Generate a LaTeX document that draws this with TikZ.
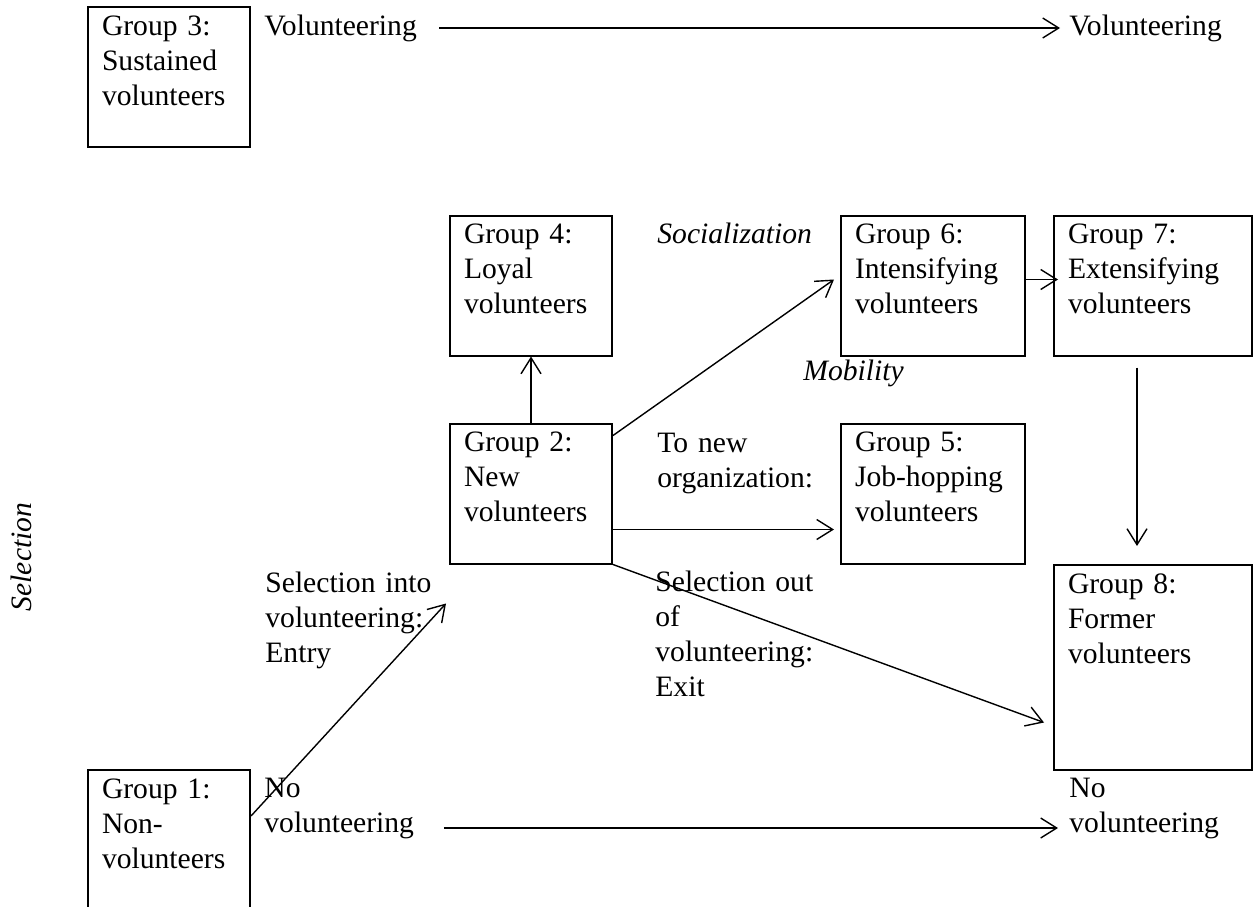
\documentclass[tikz,border=0pt]{standalone}
\usepackage{fontspec}
\setmainfont{Liberation Serif}
\usepackage{tikz}
\usetikzlibrary{arrows.meta, positioning}

\begin{document}
\begin{tikzpicture}[x=0.5pt,y=-0.5pt,on grid,>={Straight Barb[length=8pt,width=10pt]},
    font=\fontsize{14.8pt}{17.5pt}\selectfont]
    \tikzstyle{grp}=[shape=rectangle,draw,line width=1pt,inner xsep=7pt,inner ysep=0pt,
        align=left,text width=67pt,text height=14pt,text depth=56pt]
    \tikzstyle{lbl}=[anchor=base west,inner sep=0pt,align=left]

    \useasboundingbox (0,0) rectangle (1253,906);
    \clip (0,0) rectangle (1253,906);

    \node[grp] (g3) at (169,77) {Group 3:\\Sustained\\volunteers};
    \node[grp] (g4) at (531,285.5) {Group 4:\\Loyal\\volunteers};
    \node[grp, text width=78pt, right=201pt of g4] (g6) {Group 6:\\Intensifying\\volunteers};
    \node[grp, text width=85pt, right=110pt of g6] (g7) {Group 7:\\Extensifying\\volunteers};
    \node[grp, below=104pt of g4] (g2) {Group 2:\\New\\volunteers};
    \node[grp, text width=78pt, right=201pt of g2] (g5) {Group 5:\\Job-hopping\\volunteers};
    \node[grp, text width=85pt, text depth=88.5pt, below=191pt of g7] (g8) {Group 8:\\Former\\volunteers};
    \node[grp] (g1) at (169,840) {Group 1:\\Non-\\volunteers};

    \node[lbl] (v3l) at (264,35) {Volunteering};
    \node[lbl] (v3r) at (1069,35) {Volunteering};
    \node[lbl, text width=80pt] (nvl) at (264,797) {No\\volunteering};
    \node[lbl, text width=80pt] (nvr) at (1069,797) {No\\volunteering};
    \node[lbl, text width=90pt] (selin) at (265,592) {Selection into\\volunteering:\\Entry};
    \node[lbl, text width=90pt] (selout) at (655,591) {Selection out\\of\\volunteering:\\Exit};
    \node[lbl, text width=90pt] (tonew) at (657,452) {To new\\organization:};
    \node[lbl] (soc) at (657,243) {\textit{Socialization}};
    \node[lbl] (mob) at (803,380) {\textit{Mobility}};
    \node[rotate=90, inner sep=0pt] (sel) at (21,557) {\textit{Selection}};

    \path[->, line width=0.7pt]
    ([yshift=3.5pt]v3l.base east) edge[shorten <=11pt, shorten >=4.5pt] ([yshift=3.5pt]v3r.base west)
    ([yshift=-15.5pt]nvl.base east) edge[shorten <=9.5pt, shorten >=5.5pt] ([yshift=-15.5pt]nvr.base west)
    ([yshift=12pt]g1.east) edge ([xshift=-1.5pt,yshift=-19.5pt]g2.south west)
    (g2) edge (g4)
    ([yshift=-6.5pt]g2.north east) edge ([xshift=-3pt,yshift=3pt]g6.west)
    ([yshift=-18pt]g2.east) edge[shorten >=3pt] ([yshift=-18pt]g5.west)
    (g2.south east) edge ([xshift=-4.5pt,yshift=-27.5pt]g8.west)
    ([yshift=3pt]g6.east) edge[shorten >=-2.5pt] ([yshift=3pt]g7.west)
    ([xshift=-8pt,yshift=-5.5pt]g7.south) edge ([xshift=-8pt,yshift=9pt]g8.north)
    ;
\end{tikzpicture}
\end{document}
